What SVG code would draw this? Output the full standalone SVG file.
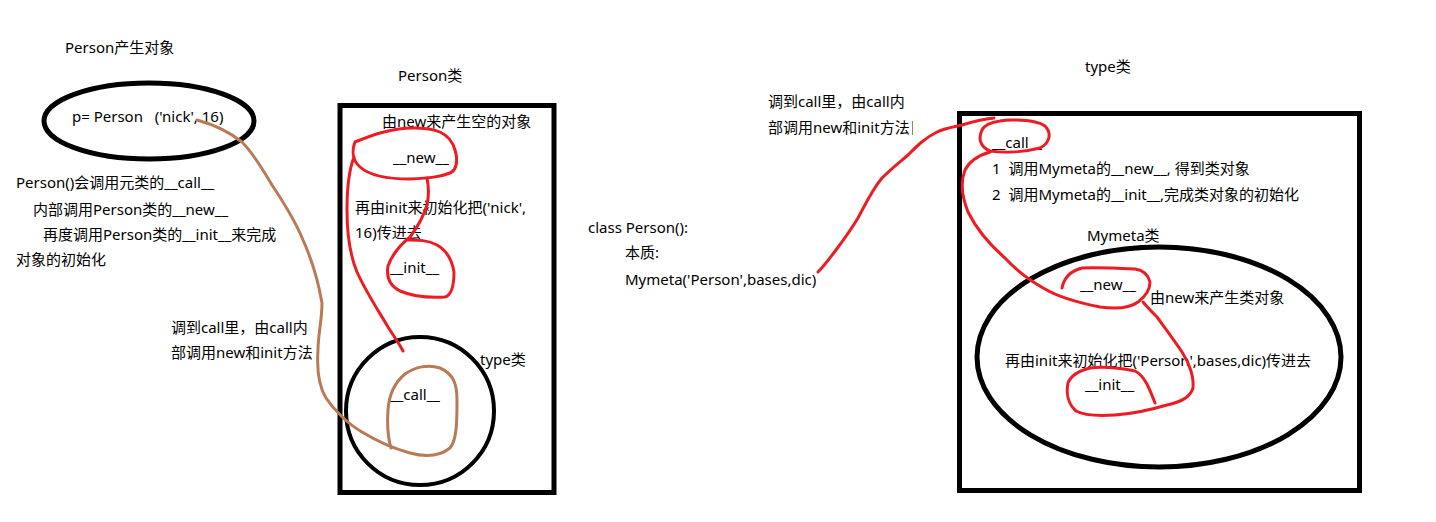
<svg xmlns="http://www.w3.org/2000/svg" width="1436" height="522" viewBox="0 0 1436 522">
<style>
text{font-family:"Noto Sans","Noto Sans CJK SC",sans-serif;font-size:15px;fill:#000;white-space:pre}
.blk{fill:none;stroke:#000;stroke-width:5}
.red{fill:none;stroke:#ed1c24;stroke-width:3;stroke-linecap:round;stroke-linejoin:round}
.brn{fill:none;stroke:#b97a57;stroke-width:3;stroke-linecap:round;stroke-linejoin:round}
</style>
<rect width="1436" height="522" fill="#fff"/>
<g id="person-object">
<text x="65" y="53">Person产生对象</text>
<ellipse class="blk" cx="149" cy="121" rx="105" ry="38"/>
<text x="72" y="122" xml:space="preserve">p= Person   ('nick', 16)</text>
</g>
<g id="note-left">
<text x="16" y="188">Person()会调用元类的__call__</text>
<text x="33" y="215">内部调用Person类的__new__</text>
<text x="43" y="240">再度调用Person类的__init__来完成</text>
<text x="16" y="265">对象的初始化</text>
</g>
<g id="person-class">
<text x="398" y="81">Person类</text>
<rect class="blk" x="340" y="105.5" width="214" height="387"/>
<text x="382" y="127">由new来产生空的对象</text>
<text x="393" y="163">__new__</text>
<text x="355" y="213">再由init来初始化把('nick',</text>
<text x="355" y="238">16)传进去</text>
<text x="390" y="273">__init__</text>
</g>
<g id="type-circle">
<ellipse cx="420" cy="411" rx="74" ry="74" fill="none" stroke="#000" stroke-width="4"/>
<text x="480" y="365">type类</text>
<text x="390" y="400">__call__</text>
</g>
<g id="note-mid-left">
<text x="171" y="333">调到call里，由call内</text>
<text x="171" y="358">部调用new和init方法</text>
</g>
<g id="class-def">
<text x="588" y="233">class Person():</text>
<text x="625" y="258">本质:</text>
<text x="625" y="285">Mymeta('Person',bases,dic)</text>
</g>
<g id="note-mid-right">
<text x="768" y="107">调到call里，由call内</text>
<text x="768" y="133">部调用new和init方法</text>
<line x1="912.5" y1="121" x2="912.5" y2="135" stroke="#b97a57" stroke-width="1"/>
</g>
<g id="type-class">
<text x="1085" y="72">type类</text>
<rect class="blk" x="959.5" y="113.5" width="400" height="377"/>
<text x="992" y="148">__call__</text>
<text x="992" y="174" xml:space="preserve">1  调用Mymeta的__new__, 得到类对象</text>
<text x="992" y="200" xml:space="preserve">2  调用Mymeta的__init__,完成类对象的初始化</text>
</g>
<g id="mymeta-class">
<text x="1087" y="241">Mymeta类</text>
<ellipse class="blk" cx="1159" cy="357" rx="182" ry="110"/>
<text x="1080" y="290">__new__</text>
<text x="1150" y="303">由new来产生类对象</text>
<text x="1005" y="366">再由init来初始化把('Person',bases,dic)传进去</text>
<text x="1085" y="390">__init__</text>
</g>
<g id="connectors">
<path class="brn" d="M197,120 C215,125 232,134 242,142 C252,152 262,168 272,185 C282,200 295,220 303,240 C312,260 318,280 322,303 C322,320 318,335 318,350 C317,365 318,385 326,398 C334,410 348,424 362,432 C375,440 392,448 410,453 C425,457 440,456 450,448 C457,440 457,420 457,400 C457,385 454,374 440,368 C428,364 415,367 405,374 C394,383 389,395 388,410 C387,425 388,438 391,448"/>
<path class="red" d="M355,142 C370,136 390,128 413,128 C435,128 450,132 455,150 C458,160 457,170 450,173 C440,177 430,178 410,179 C390,179 370,176 360,167 C352,160 352,150 355,142 Z"/>
<path class="red" d="M354,157 C349,170 347,185 347,210 C347,235 350,255 357,272 C366,292 378,310 388,327 C395,338 400,345 403,351"/>
<path class="red" d="M427,178 C429,188 429,196 427,205 C424,215 419,225 410,237 C400,245 392,255 388,266 C386,278 390,286 400,291 C412,296 430,298 445,297 C452,295 454,285 454,272 C452,260 446,250 437,245 C428,240 418,240 408,240"/>
<path class="red" d="M818,272 C824,266 830,258 836,250 C845,238 852,228 858,218 C865,205 872,190 882,178 C893,167 900,162 908,155 C918,145 925,138 937,132 C945,128 953,127 962,125 C975,121 985,119 994,118"/>
<path class="red" d="M1000,121 C993,122 985,124 982,130 C978,138 980,147 990,151 C1005,153 1025,152 1040,148 C1050,143 1052,133 1045,126 C1038,121 1025,120 1012,120 C1005,120 1000,121 1000,121 Z"/>
<path class="red" d="M990,152 C980,155 970,160 965,170 C960,183 962,197 968,212 C977,230 990,245 1005,258 C1018,272 1032,282 1045,289 C1060,298 1080,303 1100,307 C1115,309 1130,308 1138,302 C1146,296 1150,290 1150,282 C1148,274 1142,270 1135,269 C1115,268 1095,267 1082,268 C1070,271 1064,278 1062,288"/>
<path class="red" d="M1143,302 C1148,308 1152,312 1157,317 C1165,328 1174,340 1182,352 C1190,364 1194,378 1193,388 C1190,398 1180,402 1167,405 C1150,410 1132,414 1115,415 C1100,416 1085,416 1076,411 C1068,404 1066,393 1068,383 C1071,375 1078,371 1090,368 C1105,366 1120,368 1135,371 C1145,376 1150,390 1155,403"/>
</g>
</svg>
